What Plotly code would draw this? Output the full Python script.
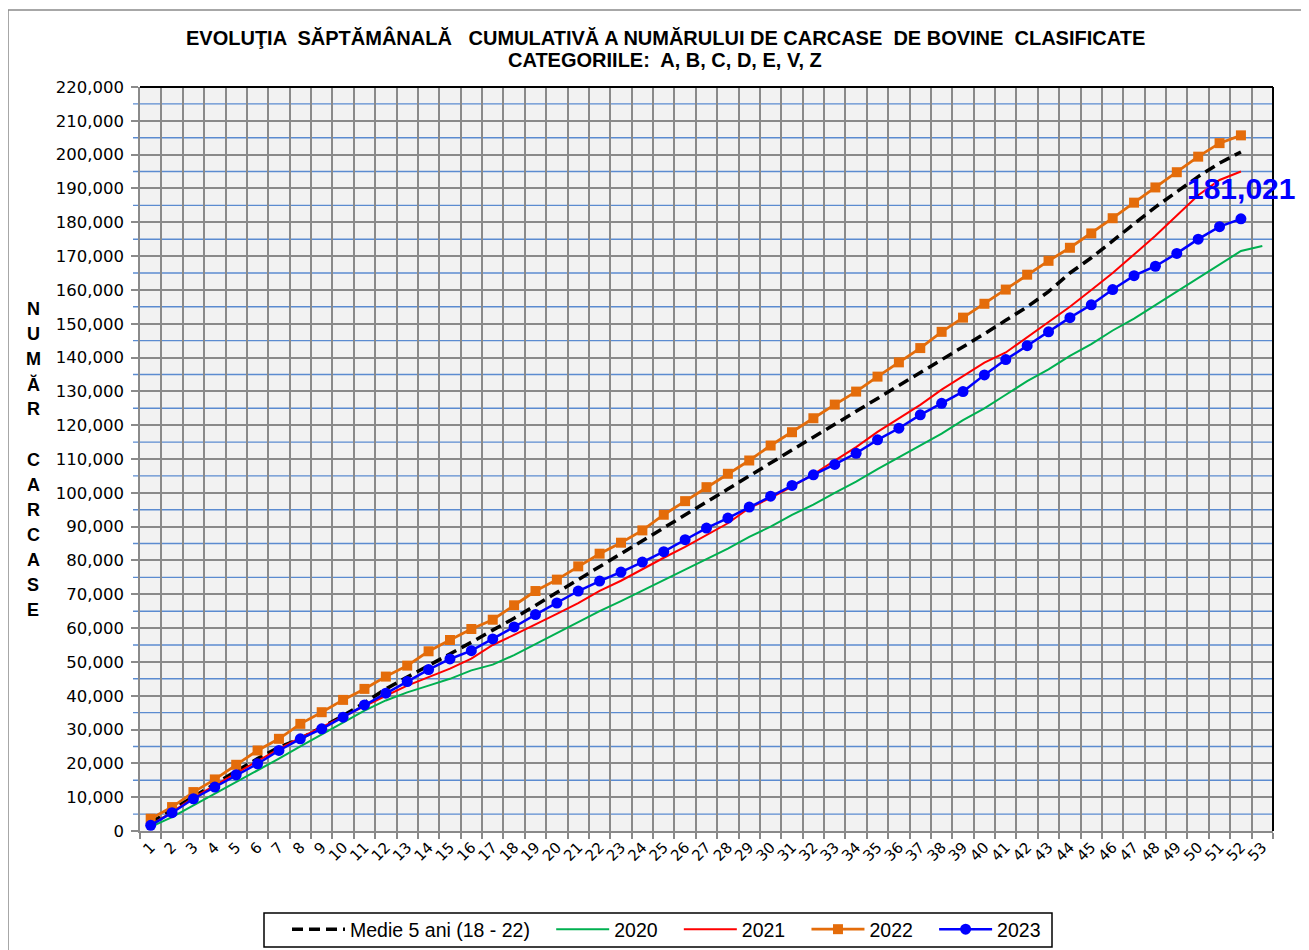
import plotly.graph_objects as go

# ---------------- data ----------------
weeks = list(range(1, 54))
week_labels = [str(w) for w in weeks]

medie_5ani = [2500, 6300, 10300, 14000, 17700, 21400, 24800, 27300, 30800, 34100,
              37900, 42000, 45500, 48900, 52200, 55800, 59400, 62900, 66700, 70500,
              74400, 78200, 82000, 85800, 89700, 93500, 97300, 101100, 105000, 108800,
              112600, 116400, 120300, 124100, 127900, 131700, 135600, 139400, 143200, 147000,
              151000, 155000, 159500, 165000, 169500, 174500, 179300, 184500, 189000, 193500,
              197500, 200800]

y2020 = [1200, 4100, 7600, 11000, 14500, 17900, 21400, 25000, 28500, 32100,
         35600, 38600, 41000, 43000, 45000, 47500, 49200, 52000, 55300, 58500,
         61700, 65000, 68000, 71200, 74200, 77300, 80300, 83500, 87000, 90000,
         93500, 96500, 100000, 103300, 107000, 110500, 114000, 117500, 121500, 125000,
         129000, 133000, 136500, 140500, 144000, 148000, 151500, 155500, 159500, 163500,
         167500, 171500, 173000]

y2021 = [1800, 5600, 9900, 13500, 17200, 20800, 24300, 27600, 30700, 34000,
         37000, 40000, 43000, 45500, 48000, 51000, 55000, 58000, 61000, 64200,
         67400, 71000, 74000, 77500, 80800, 84000, 87500, 91000, 95500, 98500,
         101800, 105500, 109500, 113500, 118000, 122000, 126000, 130500, 134500, 138500,
         141500, 146000, 150500, 155000, 160000, 165000, 170500, 176000, 182000, 188000,
         192500, 195000]

y2022 = [3640, 7080, 11510, 15250, 19580, 23810, 27260, 31680, 35130, 38770,
         42020, 45660, 48900, 53140, 56480, 59730, 62480, 66740, 70960, 74330,
         78250, 82000, 85250, 88890, 93520, 97540, 101670, 105630, 109560, 113990,
         117920, 122050, 126090, 129930, 134360, 138580, 142800, 147600, 151800, 155900,
         160100, 164500, 168600, 172460, 176700, 181200, 185800, 190300, 194800, 199400,
         203400, 205700]

y2023 = [1670, 5410, 9540, 12990, 16630, 19880, 23810, 27260, 30210, 33650,
         37290, 40740, 44180, 47720, 50870, 53330, 56780, 60330, 63990, 67420,
         70960, 73920, 76580, 79530, 82590, 86130, 89570, 92520, 95770, 99020,
         102170, 105330, 108380, 111700, 115670, 119100, 123050, 126480, 129930, 134870,
         139400, 143500, 147600, 151800, 155600, 160100, 164200, 167000, 170800, 175000,
         178700, 181021]

series_names = ["Medie 5 ani (18 - 22)", "2020", "2021", "2022", "2023"]
title_line1 = "EVOLUŢIA  SĂPTĂMÂNALĂ   CUMULATIVĂ A NUMĂRULUI DE CARCASE  DE BOVINE  CLASIFICATE"
title_line2 = "CATEGORIILE:  A, B, C, D, E, V, Z"
yaxis_letters = ["N", "U", "M", "Ă", "R", "", "C", "A", "R", "C", "A", "S", "E"]

y_max = 220000
y_major = 10000
y_minor_vals = list(range(y_major // 2, y_max, y_major))

# ---------------- layout geometry ----------------
# The page body has an 8px margin, so the figure origin sits at page (8, 8).
OFF = 8
W, H = 1309 - OFF, 950 - OFF
PLOT_L, PLOT_R, PLOT_T, PLOT_B = 140, 1273, 87, 831   # page pixels of the plot area
L = PLOT_L - OFF
T = PLOT_T - OFF
R = W - (PLOT_R - OFF)
B = H - (PLOT_B - OFF)
PW, PH = PLOT_R - PLOT_L, PLOT_B - PLOT_T


def px_x(x):
    return (x - PLOT_L) / PW


def px_y(y):
    return (PLOT_B - y) / PH


PAD = "\u00a0" * 3

fig = go.Figure()

fig.add_trace(go.Scatter(x=weeks[:len(medie_5ani)], y=medie_5ani, name=series_names[0] + PAD,
                         mode="lines", line=dict(color="black", width=3.5, dash="11px,6px")))
fig.add_trace(go.Scatter(x=weeks[:len(y2020)], y=y2020, name=series_names[1] + PAD,
                         mode="lines", line=dict(color="#00b050", width=2)))
fig.add_trace(go.Scatter(x=weeks[:len(y2021)], y=y2021, name=series_names[2] + PAD,
                         mode="lines", line=dict(color="#ff0000", width=2)))
fig.add_trace(go.Scatter(x=weeks[:len(y2022)], y=y2022, name=series_names[3] + PAD,
                         mode="lines+markers", line=dict(color="#e46c0a", width=2.8),
                         marker=dict(symbol="square", size=10, color="#e46c0a")))
fig.add_trace(go.Scatter(x=weeks[:len(y2023)], y=y2023, name=series_names[4],
                         mode="lines+markers", line=dict(color="#0000ff", width=2.5),
                         marker=dict(symbol="circle", size=11, color="#0000ff")))

gray = "#8a8a8a"
blue_grid = "#5b8bd0"

fig.update_layout(
    width=W, height=H,
    margin=dict(l=L, r=R, t=T, b=B, autoexpand=False),
    paper_bgcolor="white",
    plot_bgcolor="#f2f2f2",
    showlegend=True,
    legend=dict(orientation="h", x=px_x(287), xanchor="left", y=px_y(910), yanchor="top",
                bgcolor="rgba(0,0,0,0)", borderwidth=0,
                font=dict(family="Liberation Sans, Arial", size=19.5, color="black"),
                itemwidth=53, traceorder="normal"),
    xaxis=dict(range=[0.5, 53.5], tickmode="array", tickvals=weeks, ticktext=week_labels,
               tickangle=-45, ticks="", showgrid=False, zeroline=False,
               showline=True, linecolor=gray, linewidth=1.5,
               tickfont=dict(family="DejaVu Sans", size=15, color="black"),
               minor=dict(tick0=0.5, dtick=1, showgrid=True, gridcolor=gray, gridwidth=1.6,
                          ticks="outside", ticklen=6, tickcolor=gray, tickwidth=1.5)),
    yaxis=dict(range=[0, y_max], dtick=y_major, tickformat=",", ticks="outside", ticklen=7,
               tickcolor=gray, tickwidth=1.5, showgrid=True, gridcolor=gray, gridwidth=1.6,
               zeroline=False, showline=True, linecolor=gray, linewidth=1.5,
               ticklabelstandoff=4,
               tickfont=dict(family="DejaVu Sans", size=16.5, color="black")),
)

shapes = []
# blue minor gridlines (with their short outside tick marks)
for v in y_minor_vals:
    shapes.append(dict(type="line", xref="paper", yref="y", x0=px_x(133), x1=1, y0=v, y1=v,
                       layer="below", line=dict(color=blue_grid, width=1.4)))
shapes += [
    # black top and right plot-area border
    dict(type="line", xref="paper", yref="paper", x0=0, x1=1, y0=1, y1=1,
         line=dict(color="black", width=2)),
    dict(type="line", xref="paper", yref="paper", x0=1, x1=1, y0=0, y1=1,
         line=dict(color="black", width=2)),
    # outer chart frame (top and left visible)
    dict(type="line", xref="paper", yref="paper", x0=px_x(8), x1=px_x(1315), y0=px_y(10), y1=px_y(10),
         line=dict(color=gray, width=1.5)),
    dict(type="line", xref="paper", yref="paper", x0=px_x(8), x1=px_x(8), y0=px_y(10), y1=px_y(960),
         line=dict(color=gray, width=1.5)),
    # legend frame
    dict(type="rect", xref="paper", yref="paper", x0=px_x(264), x1=px_x(1052), y0=px_y(913), y1=px_y(947),
         fillcolor="white", line=dict(color="black", width=1.5)),
]
fig.update_layout(shapes=shapes)

annotations = [
    dict(text=title_line1, xref="paper", yref="paper", x=px_x(665), y=px_y(37),
         xanchor="center", yanchor="middle", showarrow=False,
         font=dict(family="Liberation Sans, Arial", size=20, color="black", weight="bold")),
    dict(text=title_line2, xref="paper", yref="paper", x=px_x(665), y=px_y(60),
         xanchor="center", yanchor="middle", showarrow=False,
         font=dict(family="Liberation Sans, Arial", size=20, color="black", weight="bold")),
    dict(text=f"{y2023[-1]:,}", x=weeks[len(y2023) - 1], y=y2023[-1], xref="x", yref="y",
         yshift=30, showarrow=False, xanchor="center", yanchor="middle",
         font=dict(family="Liberation Sans, Arial", size=30, color="#0000ff", weight="bold")),
]
for i, ch in enumerate(yaxis_letters):
    if ch:
        annotations.append(dict(text=ch, xref="paper", yref="paper", x=px_x(33), y=px_y(309 + i * 25.1),
                                xanchor="center", yanchor="middle", showarrow=False,
                                font=dict(family="Liberation Sans, Arial", size=18, color="black",
                                          weight="bold")))
fig.update_layout(annotations=annotations)

fig.write_html("out.html")
